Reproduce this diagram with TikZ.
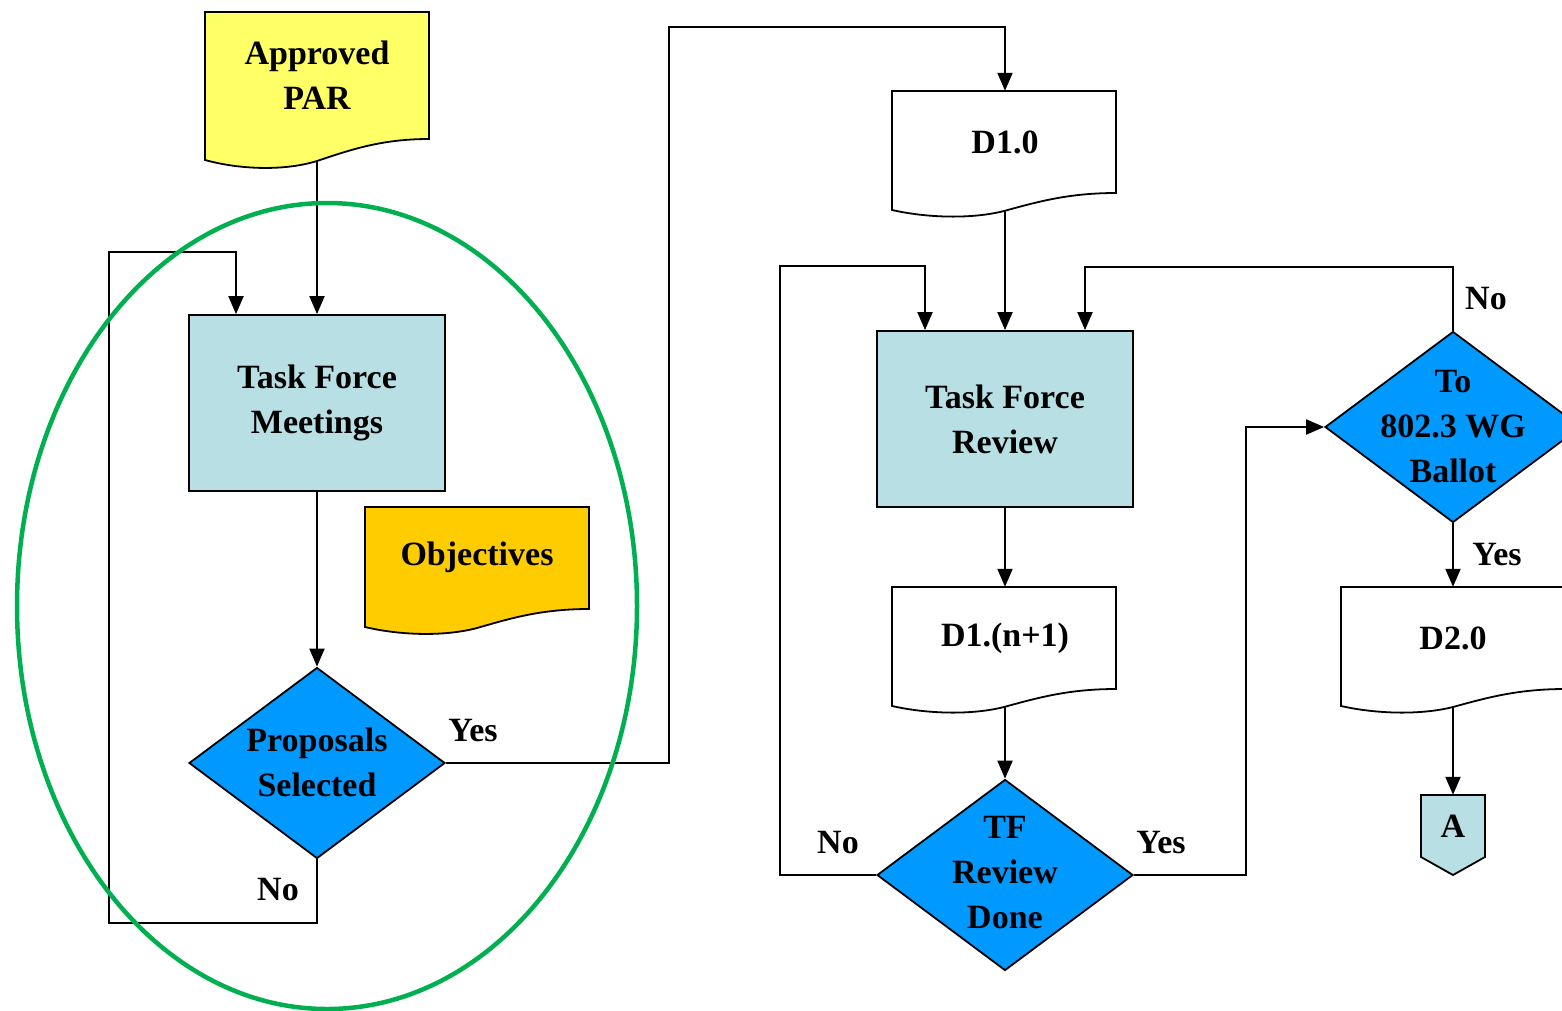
\documentclass[tikz,border=0pt]{standalone}
\usepackage{fontspec}
\setmainfont{Liberation Serif}
\usetikzlibrary{arrows.meta,shapes.geometric}
\definecolor{parYellow}{HTML}{FFFF66}
\definecolor{objOrange}{HTML}{FFCC00}
\definecolor{tfBlue}{HTML}{B8E0E4}
\definecolor{decBlue}{HTML}{0099FF}
\definecolor{ringGreen}{HTML}{00B050}
\def\docshape[#1](#2,#3)(#4:#5){\draw[#1] (#2,#3) -- ++(224,0) -- ++(0,#4) .. controls +(-48,0) and +(33,{-#5/2}) .. ++(-112,#5) .. controls +(-32,{0.45*#5}) and +(36,{0.45*#5}) .. ++(-112,-1) -- cycle;}
\newcommand{\dlines}[1]{\smash{\raisebox{-8pt}{\begin{tabular}{@{}c@{}}#1\end{tabular}}}}
\tikzset{
	txt/.style={font=\bfseries\fontsize{34}{45}\selectfont, align=center},
	box/.style={txt, draw, fill=tfBlue, line width=1.8pt, minimum width=256pt, minimum height=176pt},
	decision/.style={txt, diamond, draw, fill=decBlue, line width=1.8pt, inner sep=0pt, minimum width=256pt, minimum height=191pt},
	doctext/.style={txt, inner sep=0pt},
	lbl/.style={txt},
	arr/.style={line width=2pt, -{Triangle[length=18pt,width=15pt]}}
}
\begin{document}
\begin{tikzpicture}[x=1pt,y=-1pt]
			%%%%% START %%%%%
			\useasboundingbox (0,0) rectangle (1562,1010);
			\clip (0,0) rectangle (1562,1010);
			
			\docshape[fill=parYellow, line width=1.8pt](205,12)(127:22);
			\docshape[fill=objOrange, line width=1.8pt](365,507)(102:19);
			\docshape[fill=white, line width=1.8pt](892,91)(102:18);
			\docshape[fill=white, line width=1.8pt](892,587)(102:18);
			\docshape[fill=white, line width=1.8pt](1341,587)(102:18);
			\draw[fill=tfBlue, line width=1.8pt] (1421,795) -- (1485,795) -- (1485,857) -- (1453,875) -- (1421,857) -- cycle;
			
			\node[doctext] (par) at (317,75) {Approved\\PAR};
			\node[doctext] (obj) at (477,557) {Objectives};
			\node[doctext, minimum height=102pt] (d10) at (1005,142) {D1.0};
			\node[doctext, minimum height=102pt] (d1n) at (1005,638) {D1.(n+1)};
			\node[doctext, minimum height=102pt] (d20) at (1453,638) {D2.0};
			\node[doctext, minimum height=62pt] (conA) at (1453,826) {A};
			
			\coordinate (par-b) at (317,162);
			\coordinate (d10-b) at (1005,211);
			\coordinate (d1n-b) at (1005,707);
			\coordinate (d20-b) at (1453,707);
			
			\node[box] (tfm) at (317,403) {Task Force\\Meetings};
			\node[box] (tfr) at (1005,419) {Task Force\\Review};
			
			\node[decision] (psel) at (317,763) {\dlines{Proposals\\Selected}};
			\node[decision] (tfd) at (1005,875) {\raisebox{4pt}{\dlines{TF\\Review\\Done}}};
			\node[decision] (ballot) at (1453,427) {\dlines{To\\802.3 WG\\Ballot}};
			
			\node[lbl] (psel-yes) at (473,731) {Yes};
			\node[lbl] (psel-no) at (278,890) {No};
			\node[lbl] (tfd-no) at (838,843) {No};
			\node[lbl] (tfd-yes) at (1161,843) {Yes};
			\node[lbl] (ballot-no) at (1486,299) {No};
			\node[lbl] (ballot-yes) at (1497,555) {Yes};
			
			\draw[arr] (par-b) -- (tfm.north);
			\draw[arr] (tfm.south) -- (psel.north);
			\draw[arr] (psel.south) -- ++(0,64) -| ++(-208,-671) -| ([xshift=-81pt]tfm.north);
			\draw[arr] (psel.east) -- ++(223,0) |- ([yshift=64pt]d10.north) -- (d10.north);
			
			\draw[arr] (d10-b) -- (tfr.north);
			\draw[arr] (tfr.south) -- (d1n.north);
			\draw[arr] (d1n-b) -- (tfd.north);
			\draw[arr] (tfd.west) -- ++(-96,0) |- ([xshift=-80pt,yshift=64pt]tfr.north) -- ([xshift=-80pt]tfr.north);
			\draw[arr] (tfd.east) -- ++(112,0) |- (ballot.west);
			\draw[arr] (ballot.north) -- ++(0,-64) -| ([xshift=80pt]tfr.north);
			\draw[arr] (ballot.south) -- (d20.north);
			\draw[arr] (d20-b) -- (conA.north);
			
			\draw[ringGreen, line width=4.5pt] (327,606) ellipse (310 and 403);
			%%%%% END %%%%%
\end{tikzpicture}
\end{document}
